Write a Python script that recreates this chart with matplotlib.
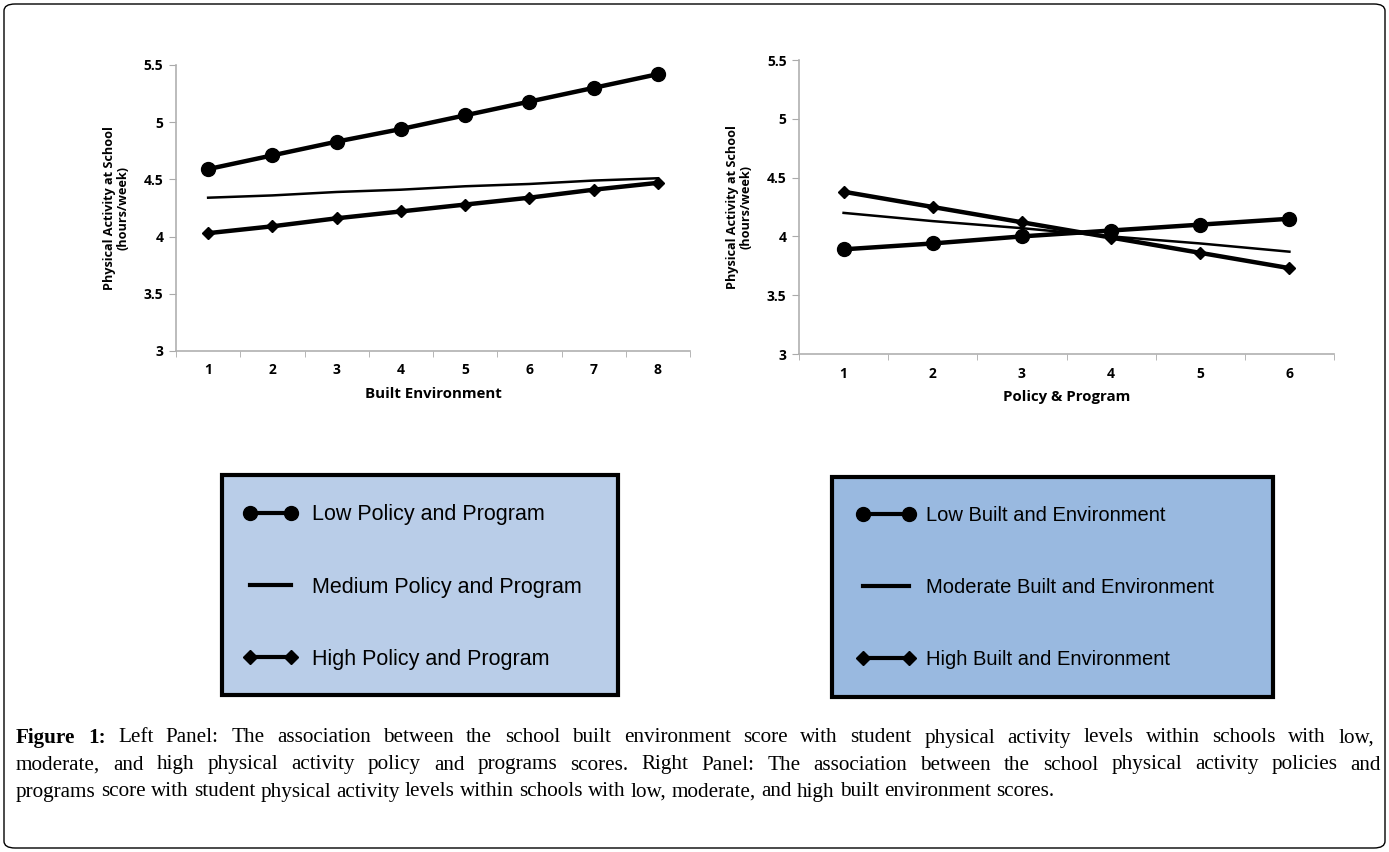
import matplotlib
matplotlib.use("Agg")
from matplotlib import pyplot as plt
from matplotlib.lines import Line2D
from matplotlib.patches import Rectangle, FancyBboxPatch

# left panel: built environment score, by policy & program level
be_x = [1, 2, 3, 4, 5, 6, 7, 8]
be_low = [4.59, 4.71, 4.83, 4.94, 5.06, 5.18, 5.30, 5.42]
be_med = [4.34, 4.36, 4.39, 4.41, 4.44, 4.46, 4.49, 4.51]
be_high = [4.03, 4.09, 4.16, 4.22, 4.28, 4.34, 4.41, 4.47]
be_labels = ["Low Policy and Program", "Medium Policy and Program", "High Policy and Program"]

# right panel: policy & program score, by built environment level
pp_x = [1, 2, 3, 4, 5, 6]
pp_low = [3.89, 3.94, 4.00, 4.05, 4.10, 4.15]
pp_med = [4.20, 4.13, 4.07, 4.00, 3.94, 3.87]
pp_high = [4.38, 4.25, 4.12, 3.99, 3.86, 3.73]
pp_labels = ["Low Built and Environment", "Moderate Built and Environment", "High Built and Environment"]

y_ticks = [3, 3.5, 4, 4.5, 5, 5.5]
y_ticklabels = ["3", "3.5", "4", "4.5", "5", "5.5"]

caption_bold = "Figure 1:"
caption = [
    "Left Panel: The association between the school built environment score with student physical activity levels within schools with low,",
    "moderate, and high physical activity policy and programs scores. Right Panel: The association between the school physical activity policies and",
    "programs score with student physical activity levels within schools with low, moderate, and high built environment scores.",
]

W, H = 1389, 852
fig = plt.figure(figsize=(W / 100, H / 100), dpi=100)
plt.rcParams["font.family"] = ["Open Sans", "DejaVu Sans"]


def fx(px):
    return px / W


def fy(py):
    return 1 - py / H


def panel(rect, x, low, med, high, xlabel):
    ax = fig.add_axes(rect)
    ax.plot(x, low, color="black", lw=3.2, marker="o", ms=10, zorder=3)
    ax.plot(x, med, color="black", lw=1.8, zorder=2)
    ax.plot(x, high, color="black", lw=3.2, marker="D", ms=6, zorder=3)
    ax.set_xlim(0.5, len(x) + 0.5)
    ax.set_ylim(3, 5.5)
    ax.set_yticks(y_ticks)
    ax.set_yticklabels(y_ticklabels)
    ax.set_xticks(x)
    ax.set_xticklabels([str(v) for v in x])
    # category boundary ticks like excel
    ax.set_xticks([v + 0.5 for v in [0] + x], minor=True)
    ax.tick_params(axis="x", which="major", length=0, pad=9)
    ax.tick_params(axis="x", which="minor", length=4, color="#aaaaaa", direction="out")
    ax.tick_params(axis="y", length=5, color="#aaaaaa", direction="out", pad=4)
    for t in ax.get_xticklabels() + ax.get_yticklabels():
        t.set_fontweight("bold")
        t.set_fontsize(10)
    for s in ["top", "right"]:
        ax.spines[s].set_visible(False)
    for s in ["left", "bottom"]:
        ax.spines[s].set_color("#b0b0b0")
        ax.spines[s].set_linewidth(1.2)
    ax.set_xlabel(xlabel, fontsize=10.8, fontweight="bold", labelpad=7)
    ax.set_ylabel("Physical Activity at School\n(hours/week)", fontsize=9.1,
                  fontweight="bold", labelpad=10, linespacing=1.1)
    return ax


panel([fx(176), fy(351), fx(690 - 176), fy(65) - fy(351)],
      be_x, be_low, be_med, be_high, "Built Environment")
panel([fx(799), fy(354), fx(1334 - 799), fy(60) - fy(354)],
      pp_x, pp_low, pp_med, pp_high, "Policy & Program")


def legend_box(x0, x1, y0, y1, color, labels, size, hlen, hpad, anchor_x, anchor_y, spacing):
    fig.patches.append(Rectangle((fx(x0), fy(y1)), fx(x1 - x0), fy(y0) - fy(y1),
                                 transform=fig.transFigure, facecolor=color,
                                 edgecolor="black", lw=3, zorder=1))
    handles = [
        Line2D([], [], color="black", lw=3, marker="o", ms=10),
        Line2D([], [], color="black", lw=3),
        Line2D([], [], color="black", lw=3, marker="D", ms=7),
    ]
    leg = fig.legend(handles, labels, loc="upper left",
                     bbox_to_anchor=(fx(anchor_x), fy(anchor_y)), frameon=False,
                     numpoints=2, handlelength=hlen, handletextpad=hpad,
                     labelspacing=spacing, prop={"family": ["Liberation Sans"], "size": size})
    leg.set_zorder(2)


legend_box(222, 618, 475, 695, "#b9cde8", be_labels, 15.5, 2.5, 0.7, 224, 485, 2.38)
legend_box(832, 1273, 477, 697, "#99b9e0", pp_labels, 14.5, 2.9, 0.5, 839, 488, 2.62)

# caption, justified like the journal layout
serif = ["Liberation Serif", "DejaVu Serif"]
cap_size = 15.2
cap_x0 = 16
renderer = fig.canvas.get_renderer()


def text_width(s, bold=False):
    t = fig.text(0, 0, s, fontsize=cap_size, family=serif,
                 fontweight="bold" if bold else "normal")
    w = t.get_window_extent(renderer).width
    t.remove()
    return w


space_w = text_width("a a") - text_width("aa")


def put_line(words, py, x_end=None):
    # words: list of (text, bold)
    arts = []
    for w, b in words:
        t = fig.text(0, fy(py), w, fontsize=cap_size, family=serif,
                     fontweight="bold" if b else "normal", va="center")
        arts.append(t)
    widths = [t.get_window_extent(renderer).width for t in arts]
    gap = space_w
    if x_end is not None:
        gap = (x_end - cap_x0 - sum(widths)) / (len(arts) - 1)
    x = cap_x0
    for t, w in zip(arts, widths):
        t.set_x(fx(x))
        x += w + gap


line1 = [(w, True) for w in caption_bold.split()] + [(w, False) for w in caption[0].split()]
put_line(line1, 738, 1374)
put_line([(w, False) for w in caption[1].split()], 765, 1381)
put_line([(w, False) for w in caption[2].split()], 792)

# outer frame
fig.patches.append(FancyBboxPatch((fx(4), fy(848)), fx(1381), fy(4) - fy(848),
                                  boxstyle="round,pad=0,rounding_size=0.008",
                                  transform=fig.transFigure, facecolor="none",
                                  edgecolor="black", lw=1.0))

fig.savefig("out.png", dpi=100)
